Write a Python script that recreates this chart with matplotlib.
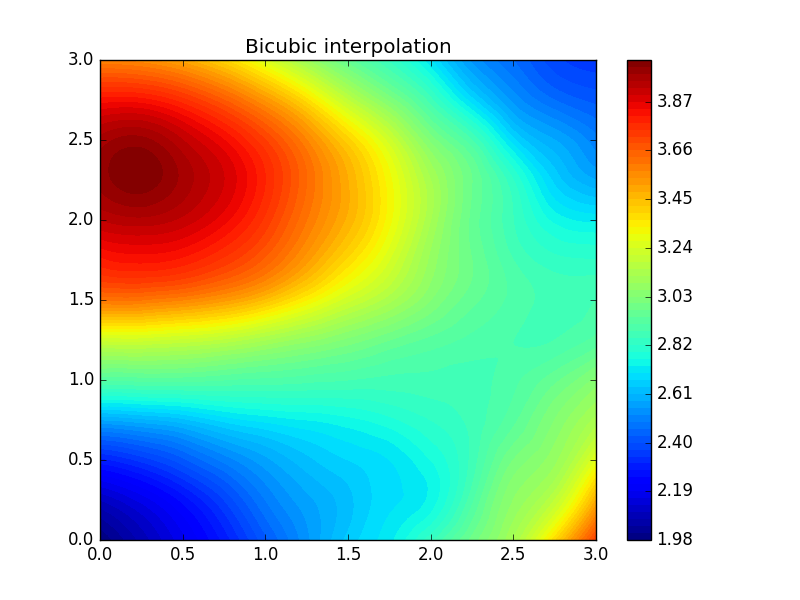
import numpy as np
import matplotlib
matplotlib.use('Agg')
import matplotlib.pyplot as plt
import matplotlib.tri as mtri

plt.style.use('classic')

# values, one row per y, bottom row first
x_vals = [0, 0.25, 0.5, 0.75, 1, 1.25, 1.5, 1.75, 2, 2.25, 2.5, 2.75, 3]
y_vals = [0, 0.25, 0.5, 0.75, 1, 1.25, 1.5, 1.75, 2, 2.25, 2.5, 2.75, 3]
z_rows = [
    [1.98, 2.08, 2.18, 2.29, 2.42, 2.54, 2.65, 2.72, 2.84, 2.98, 3.12, 3.38, 3.72],
    [2.10, 2.17, 2.26, 2.37, 2.49, 2.57, 2.63, 2.69, 2.74, 2.90, 3.06, 3.18, 3.48],
    [2.30, 2.35, 2.42, 2.50, 2.57, 2.63, 2.67, 2.70, 2.76, 2.86, 3.00, 3.08, 3.27],
    [2.58, 2.60, 2.63, 2.68, 2.71, 2.73, 2.75, 2.78, 2.82, 2.86, 2.93, 3.03, 3.13],
    [2.92, 2.92, 2.92, 2.91, 2.90, 2.89, 2.88, 2.87, 2.87, 2.87, 2.90, 2.96, 3.04],
    [3.22, 3.22, 3.20, 3.17, 3.12, 3.07, 3.02, 2.97, 2.93, 2.90, 2.88, 2.88, 2.92],
    [3.60, 3.60, 3.57, 3.52, 3.44, 3.33, 3.22, 3.13, 3.03, 2.95, 2.90, 2.87, 2.88],
    [3.80, 3.82, 3.80, 3.74, 3.65, 3.52, 3.38, 3.24, 3.08, 2.97, 2.88, 2.83, 2.82],
    [3.93, 3.95, 3.92, 3.85, 3.74, 3.60, 3.47, 3.31, 3.12, 2.96, 2.85, 2.75, 2.72],
    [4.00, 4.04, 3.98, 3.90, 3.78, 3.63, 3.48, 3.31, 3.12, 2.97, 2.82, 2.66, 2.58],
    [3.97, 4.00, 3.93, 3.84, 3.72, 3.57, 3.40, 3.22, 3.02, 2.88, 2.68, 2.58, 2.50],
    [3.82, 3.82, 3.76, 3.66, 3.53, 3.37, 3.18, 3.02, 2.86, 2.68, 2.54, 2.46, 2.42],
    [3.57, 3.55, 3.49, 3.39, 3.25, 3.09, 2.95, 2.84, 2.70, 2.54, 2.46, 2.38, 2.35],
]
cbar_ticks = [1.98, 2.19, 2.40, 2.61, 2.82, 3.03, 3.24, 3.45, 3.66, 3.87]

xx, yy = np.meshgrid(x_vals, y_vals)
tri = mtri.Triangulation(xx.ravel(), yy.ravel())
zz = np.array(z_rows).ravel()

# smooth the read grid with a cubic interpolator so the bands are not faceted
refiner = mtri.UniformTriRefiner(tri)
interp = mtri.CubicTriInterpolator(tri, zz, kind='min_E')
tri_fine, z_fine = refiner.refine_field(zz, triinterpolator=interp, subdiv=4)
z_fine = np.clip(z_fine, 1.98, 4.049)

levels = np.arange(1.98, 4.06, 0.03)

fig, ax = plt.subplots(figsize=(8, 6), dpi=100)
cs = ax.tricontourf(tri_fine, z_fine, levels=levels, cmap='jet')
ax.set_xlim(0, 3)
ax.set_ylim(0, 3)
ax.set_title('Bicubic interpolation')

cbar = fig.colorbar(cs, ax=ax, ticks=cbar_ticks)
cbar.ax.set_yticklabels(['%.2f' % t for t in cbar_ticks])

fig.savefig('out.png', dpi=100)
